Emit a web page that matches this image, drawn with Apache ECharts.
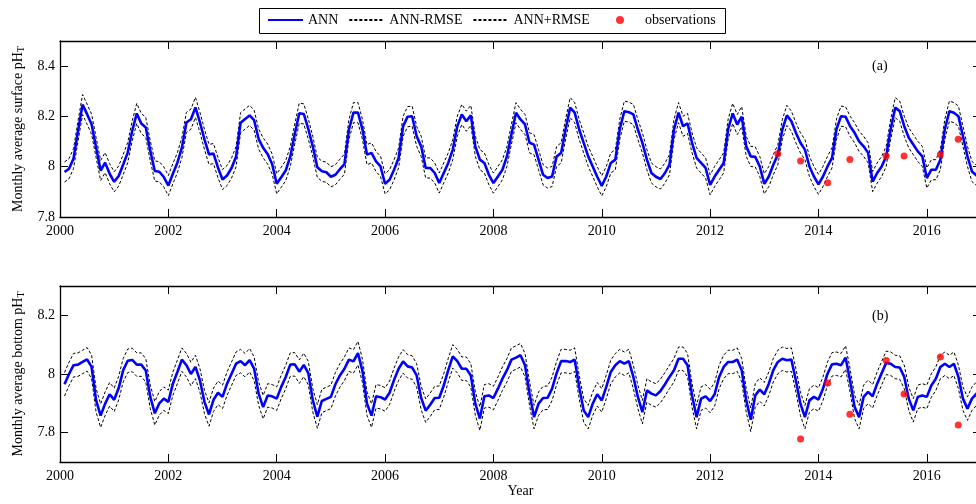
<!DOCTYPE html>
<html><head><meta charset="utf-8">
<script src="https://cdn.jsdelivr.net/npm/echarts@6/dist/echarts.min.js"></script>
<style>html,body{margin:0;padding:0;background:#fff}#c{width:976px;height:504px}</style>
</head><body><div id="c"></div>
<script>
// ---------- data ----------
const startYear = 2000;               // monthly series, Jan 2000 .. Dec 2016
const xTicks = [2000, 2002, 2004, 2006, 2008, 2010, 2012, 2014, 2016];
const surfaceTicks = [7.8, 8, 8.2, 8.4];
const bottomTicks = [7.8, 8, 8.2];

const surfaceANN = [
 7.979,7.992,8.033,8.143,8.247,8.209,8.169,8.076,7.985,8.016,7.972,7.940,
 7.963,8.009,8.056,8.143,8.212,8.172,8.156,8.063,7.983,7.980,7.959,7.925,
 7.972,8.016,8.076,8.176,8.189,8.236,8.176,8.109,8.049,8.052,7.996,7.949,
 7.965,7.995,8.040,8.175,8.190,8.204,8.185,8.110,8.075,8.050,8.010,7.932,
 7.958,7.985,8.040,8.130,8.213,8.210,8.150,8.080,7.998,7.982,7.978,7.960,
 7.968,7.990,8.010,8.148,8.215,8.215,8.148,8.048,8.055,8.021,8.001,7.932,
 7.948,7.988,8.035,8.161,8.199,8.201,8.121,8.081,7.995,7.995,7.975,7.935,
 7.975,8.015,8.068,8.161,8.208,8.181,8.204,8.081,8.028,8.015,7.968,7.935,
 7.961,7.988,8.041,8.130,8.215,8.188,8.168,8.095,8.088,8.028,7.968,7.955,
 7.961,8.041,8.055,8.150,8.235,8.215,8.148,8.095,8.041,8.001,7.960,7.924,
 7.961,8.015,8.028,8.150,8.221,8.217,8.208,8.148,8.095,8.028,7.975,7.960,
 7.951,7.975,8.008,8.148,8.215,8.161,8.172,8.095,8.035,8.015,7.995,7.928,
 7.961,7.988,8.015,8.150,8.212,8.168,8.199,8.081,8.041,8.039,8.001,7.932,
 7.961,8.008,8.048,8.148,8.204,8.181,8.135,8.095,8.068,8.001,7.961,7.930,
 7.961,8.001,8.035,8.150,8.201,8.199,8.161,8.135,8.101,8.081,8.055,7.941,
 7.975,8.001,8.041,8.150,8.235,8.221,8.161,8.115,8.088,8.061,8.041,7.955,
 7.988,7.988,8.028,8.150,8.221,8.215,8.201,8.121,8.041,7.981,7.965,7.950
];
const bottomANN = [
 7.965,8.000,8.030,8.032,8.041,8.050,8.024,7.910,7.858,7.899,7.931,7.912,
 7.952,8.013,8.045,8.048,8.032,8.032,8.012,7.922,7.866,7.900,7.916,7.905,
 7.967,8.007,8.049,8.030,8.000,8.024,7.978,7.905,7.862,7.912,7.936,7.922,
 7.967,8.001,8.035,8.044,8.030,8.047,8.018,7.933,7.887,7.927,7.924,7.916,
 7.956,7.990,8.032,8.033,8.008,8.031,8.003,7.910,7.855,7.908,7.915,7.922,
 7.965,7.995,8.018,8.049,8.043,8.071,8.010,7.899,7.858,7.924,7.921,7.913,
 7.936,7.980,8.018,8.043,8.026,8.022,7.995,7.918,7.875,7.895,7.918,7.919,
 7.961,8.013,8.060,8.044,8.018,8.018,7.995,7.899,7.848,7.924,7.927,7.918,
 7.950,7.984,8.013,8.049,8.056,8.064,8.030,7.933,7.853,7.899,7.918,7.919,
 7.950,8.003,8.044,8.044,8.041,8.049,7.956,7.876,7.853,7.899,7.931,7.910,
 7.956,8.007,8.030,8.044,8.035,8.044,7.990,7.922,7.870,7.944,7.933,7.927,
 7.942,7.965,7.990,8.013,8.052,8.052,8.030,7.927,7.853,7.916,7.924,7.908,
 7.931,7.990,8.024,8.041,8.041,8.049,8.013,7.910,7.844,7.927,7.947,7.931,
 7.967,8.013,8.041,8.052,8.047,8.049,7.978,7.899,7.853,7.910,7.922,7.913,
 7.950,8.001,8.033,8.035,8.030,8.056,7.978,7.888,7.853,7.922,7.939,7.924,
 7.967,8.003,8.038,8.035,8.024,8.022,7.990,7.916,7.876,7.922,7.927,7.922,
 7.961,7.984,8.024,8.035,8.024,8.035,7.990,7.916,7.882,7.916,7.933,7.944
];
const surfaceRMSE = 0.04;
const bottomRMSE = 0.04;

const surfaceObsTimes = [2013.25, 2013.67, 2014.17, 2014.58, 2015.25, 2015.58, 2016.25, 2016.58];
const surfaceObs      = [8.052,   8.023,   7.936,   8.029,   8.043,   8.043,   8.049,   8.109];
const bottomObsTimes  = [2013.67, 2014.17, 2014.58, 2015.25, 2015.58, 2016.25, 2016.58];
const bottomObs       = [7.778,   7.969,   7.863,   8.046,   7.932,   8.058,   7.826];

// ---------- build ----------
const FONT = 'Liberation Serif';
const r3 = v => Math.round(v * 1000) / 1000;
const monthTime = i => startYear + (i + 1) / 12;
const pairs = (arr, off) => arr.map((v, i) => [monthTime(i), r3(v + off)]);
const obsPairs = (ts, vs) => ts.map((t, i) => [t, vs[i]]);

const axisLineStyle = { lineStyle: { color: '#000', width: 1.3 } };
function xAx(grid, pos, labels, extra) {
  return Object.assign({
    type: 'value', gridIndex: grid, position: pos, min: 2000, max: 2017,
    axisLine: Object.assign({ onZero: false }, axisLineStyle),
    axisTick: { show: true, inside: true, length: 8, customValues: xTicks, lineStyle: { color: '#000' } },
    axisLabel: { show: labels, customValues: xTicks, color: '#000', fontFamily: FONT, fontSize: 14, margin: 7,
      formatter: v => String(Math.round(v)) },
    splitLine: { show: false }
  }, extra || {});
}
function yAx(grid, pos, labels, min, max, ticks, extra) {
  return Object.assign({
    type: 'value', gridIndex: grid, position: pos, min: min, max: max,
    axisLine: Object.assign({ show: true, onZero: false }, axisLineStyle),
    axisTick: { show: true, inside: true, length: 8, customValues: ticks, lineStyle: { color: '#000' } },
    axisLabel: { show: labels, customValues: ticks, color: '#000', fontFamily: FONT, fontSize: 14, margin: 5,
      formatter: v => String(Math.round(v * 10) / 10) },
    splitLine: { show: false }
  }, extra || {});
}
const yName = txt => ({
  name: '{a|' + txt + '}{s|T}', nameLocation: 'middle', nameGap: 33, nameRotate: 90,
  nameTextStyle: { color: '#000', fontFamily: FONT,
    rich: { a: { fontSize: 14, fontFamily: FONT, color: '#000', lineHeight: 16 },
            s: { fontSize: 10, fontFamily: FONT, color: '#000', lineHeight: 16, verticalAlign: 'bottom', padding: [9, 0, 0, 0] } } }
});

const dashed = { color: '#000', width: 1, type: [3, 2] };
function bandSeries(name, arr, off, xi, yi) {
  return { name: name, type: 'line', xAxisIndex: xi, yAxisIndex: yi, data: pairs(arr, off),
    showSymbol: false, symbol: 'none', lineStyle: dashed, itemStyle: { color: '#000' }, z: 2, silent: true };
}
function annSeries(arr, xi, yi) {
  return { name: 'ANN', type: 'line', xAxisIndex: xi, yAxisIndex: yi, data: pairs(arr, 0),
    showSymbol: false, symbol: 'none', lineStyle: { color: '#0000ff', width: 2.6 }, itemStyle: { color: '#0000ff' }, z: 3 };
}
function obsSeries(ts, vs, xi, yi) {
  return { name: 'observations', type: 'scatter', xAxisIndex: xi, yAxisIndex: yi, data: obsPairs(ts, vs),
    symbolSize: 7, itemStyle: { color: '#ff0000' }, z: 4 };
}

const legendText = { color: '#000', fontFamily: FONT, fontSize: 14 };
const hiddenSymbol = { opacity: 0 };

const option = {
  animation: false,
  backgroundColor: '#fff',
  textStyle: { fontFamily: FONT },
  grid: [
    { left: 60, right: -5, top: 41, height: 176, containLabel: false, outerBoundsMode: 'none' },
    { left: 60, right: -5, top: 286, height: 176, containLabel: false, outerBoundsMode: 'none' }
  ],
  legend: [
    {
      left: 267, top: 13, orient: 'horizontal', padding: 0,
      itemWidth: 35, itemHeight: 8, itemGap: 10,
      textStyle: legendText,
      data: [
        { name: 'ANN', itemStyle: hiddenSymbol },
        { name: 'ANN-RMSE', itemStyle: hiddenSymbol },
        { name: 'ANN+RMSE', itemStyle: hiddenSymbol }
      ]
    },
    {
      left: 616, top: 13, orient: 'horizontal', padding: 0,
      itemWidth: 8, itemHeight: 8,
      textStyle: Object.assign({ padding: [0, 0, 0, 16] }, legendText),
      data: [{ name: 'observations', icon: 'circle' }]
    }
  ],
  xAxis: [
    xAx(0, 'bottom', true),
    xAx(0, 'top', false),
    xAx(1, 'bottom', true, { name: 'Year', nameLocation: 'middle', nameGap: 22,
      nameTextStyle: { color: '#000', fontFamily: FONT, fontSize: 14 } }),
    xAx(1, 'top', false)
  ],
  yAxis: [
    yAx(0, 'left', true, 7.8, 8.5, surfaceTicks, yName('Monthly average surface pH')),
    yAx(0, 'right', false, 7.8, 8.5, surfaceTicks),
    yAx(1, 'left', true, 7.7, 8.3, bottomTicks, yName('Monthly average bottom pH')),
    yAx(1, 'right', false, 7.7, 8.3, bottomTicks)
  ],
  graphic: [
    { type: 'rect', shape: { x: 259.5, y: 8.5, width: 466, height: 25 },
      style: { fill: 'none', stroke: '#000', lineWidth: 1 }, silent: true },
    { type: 'text', left: 872, top: 59, style: { text: '(a)', fill: '#000', font: '14px "Liberation Serif"' } },
    { type: 'text', left: 872, top: 309, style: { text: '(b)', fill: '#000', font: '14px "Liberation Serif"' } }
  ],
  series: [
    bandSeries('ANN-RMSE', surfaceANN, -surfaceRMSE, 0, 0),
    bandSeries('ANN+RMSE', surfaceANN, surfaceRMSE, 0, 0),
    annSeries(surfaceANN, 0, 0),
    obsSeries(surfaceObsTimes, surfaceObs, 0, 0),
    bandSeries('ANN-RMSE', bottomANN, -bottomRMSE, 2, 2),
    bandSeries('ANN+RMSE', bottomANN, bottomRMSE, 2, 2),
    annSeries(bottomANN, 2, 2),
    obsSeries(bottomObsTimes, bottomObs, 2, 2)
  ]
};
const chart = echarts.init(document.getElementById('c'), null, { renderer: 'canvas' });
chart.setOption(option);
</script></body></html>
